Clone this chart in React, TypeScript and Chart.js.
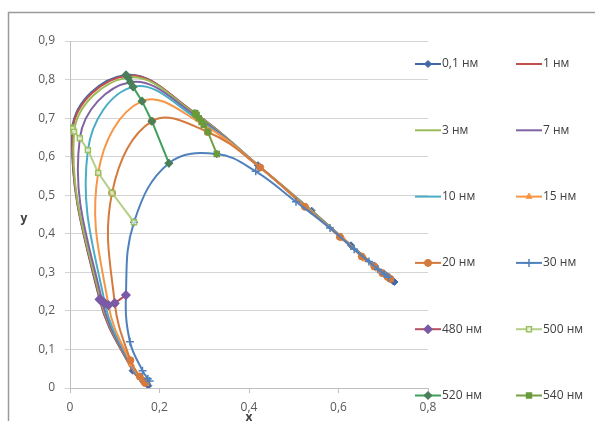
import React, { useEffect, useRef } from 'react';
import { Chart, registerables } from 'chart.js';
import { drawPoint } from 'chart.js/helpers';

Chart.register(...registerables);

// ---- data -------------------------------------------------------------
const wavelengths = [400, 420, 440, 460, 480, 500, 520, 540, 560, 580, 600, 620, 640, 660, 680, 700];

const thicknessLabels = ['0,1 нм', '1 нм', '3 нм', '7 нм', '10 нм', '15 нм', '20 нм', '30 нм'];

const x01 = [0.175, 0.172, 0.163, 0.140, 0.066, 0.005, 0.125, 0.279, 0.420, 0.540, 0.628, 0.680, 0.705, 0.717, 0.722, 0.725];
const y01 = [0.006, 0.010, 0.018, 0.045, 0.230, 0.675, 0.812, 0.713, 0.578, 0.460, 0.370, 0.318, 0.294, 0.282, 0.277, 0.275];

const x1 = [0.175, 0.172, 0.163, 0.140, 0.067, 0.006, 0.127, 0.280, 0.420, 0.539, 0.627, 0.679, 0.704, 0.716, 0.721, 0.724];
const y1 = [0.006, 0.010, 0.018, 0.046, 0.229, 0.672, 0.810, 0.712, 0.578, 0.461, 0.371, 0.319, 0.295, 0.283, 0.278, 0.276];

const x3 = [0.174, 0.171, 0.162, 0.140, 0.069, 0.009, 0.130, 0.283, 0.421, 0.538, 0.625, 0.677, 0.702, 0.714, 0.720, 0.723];
const y3 = [0.007, 0.011, 0.019, 0.048, 0.228, 0.665, 0.805, 0.708, 0.577, 0.462, 0.372, 0.320, 0.296, 0.284, 0.279, 0.277];

const x7 = [0.173, 0.170, 0.161, 0.139, 0.072, 0.022, 0.135, 0.288, 0.422, 0.535, 0.620, 0.672, 0.698, 0.711, 0.717, 0.720];
const y7 = [0.008, 0.012, 0.021, 0.051, 0.225, 0.648, 0.793, 0.700, 0.575, 0.463, 0.377, 0.324, 0.299, 0.287, 0.281, 0.279];

const x10 = [0.172, 0.169, 0.160, 0.139, 0.078, 0.040, 0.141, 0.294, 0.423, 0.532, 0.615, 0.667, 0.694, 0.707, 0.714, 0.718];
const y10 = [0.009, 0.013, 0.023, 0.055, 0.220, 0.617, 0.781, 0.690, 0.574, 0.465, 0.382, 0.328, 0.303, 0.290, 0.284, 0.281];

const x15 = [0.170, 0.167, 0.158, 0.137, 0.086, 0.063, 0.161, 0.299, 0.424, 0.528, 0.610, 0.660, 0.688, 0.702, 0.710, 0.715];
const y15 = [0.011, 0.015, 0.026, 0.062, 0.215, 0.558, 0.744, 0.682, 0.573, 0.468, 0.387, 0.334, 0.308, 0.294, 0.287, 0.283];

const x20 = [0.168, 0.165, 0.156, 0.135, 0.100, 0.094, 0.183, 0.308, 0.425, 0.525, 0.603, 0.652, 0.680, 0.698, 0.710, 0.716];
const y20 = [0.013, 0.018, 0.030, 0.072, 0.220, 0.506, 0.692, 0.664, 0.572, 0.470, 0.392, 0.341, 0.315, 0.298, 0.288, 0.283];

const x30 = [0.178, 0.174, 0.162, 0.134, 0.125, 0.143, 0.221, 0.328, 0.415, 0.505, 0.581, 0.635, 0.668, 0.688, 0.702, 0.712];
const y30 = [0.018, 0.024, 0.045, 0.120, 0.241, 0.430, 0.583, 0.607, 0.562, 0.483, 0.415, 0.360, 0.328, 0.308, 0.296, 0.287];

const thicknessX = [x01, x1, x3, x7, x10, x15, x20, x30];
const thicknessY = [y01, y1, y3, y7, y10, y15, y20, y30];

const markerWavelengths = [480, 500, 520, 540];
const markerLabels = ['480 нм', '500 нм', '520 нм', '540 нм'];

const xTicks = [0, 0.2, 0.4, 0.6, 0.8];
const yTicks = [0, 0.1, 0.2, 0.3, 0.4, 0.5, 0.6, 0.7, 0.8, 0.9];

// ---- styles -----------------------------------------------------------
const thicknessStyles = [
  { color: '#4068a8', point: 'rectRot', radius: 3.5 },
  { color: '#c0504d', point: 'circle', radius: 0 },
  { color: '#9bbb59', point: 'circle', radius: 0 },
  { color: '#8064a2', point: 'circle', radius: 0 },
  { color: '#4bacc6', point: 'circle', radius: 0 },
  { color: '#f79646', point: 'triangle', radius: 3.5 },
  { color: '#d57a3c', point: 'circle', radius: 3.5 },
  { color: '#4f81bd', point: 'cross', radius: 4 },
];
const markerStyles = [
  { color: '#b54f5d', pColor: '#7a5aa6', fill: '#7a5aa6', point: 'rectRot', radius: 4 },
  { color: '#b4d088', pColor: '#9bc15f', fill: 'rgba(255,255,255,0.6)', point: 'rect', radius: 3.5 },
  { color: '#3f9f5b', pColor: '#4a7f5a', fill: '#4a7f5a', point: 'rectRot', radius: 3.5 },
  { color: '#74a047', pColor: '#6a9a3a', fill: '#6a9a3a', point: 'rect', radius: 3.5 },
];

const fmt = (v: number | string) => {
  const n = Number(v);
  return n === 0 ? '0' : n.toFixed(1).replace('.', ',');
};

const frameAndLegend = {
  id: 'frameAndLegend',
  beforeDraw(chart: any) {
    const ctx = chart.ctx;
    ctx.save();
    ctx.fillStyle = '#ffffff';
    ctx.fillRect(0, 0, chart.width, chart.height);
    ctx.strokeStyle = '#9a9a9a';
    ctx.lineWidth = 1.5;
    ctx.beginPath();
    ctx.moveTo(8.5, chart.height + 2);
    ctx.lineTo(8.5, 12.5);
    ctx.lineTo(chart.width + 2, 12.5);
    ctx.stroke();
    ctx.restore();
  },
  afterDraw(chart: any) {
    const ctx = chart.ctx;
    const area = chart.chartArea;
    ctx.save();
    // axis titles
    ctx.fillStyle = '#404040';
    ctx.font = 'bold 12px "Open Sans", "Liberation Sans", sans-serif';
    ctx.textAlign = 'center';
    ctx.textBaseline = 'middle';
    ctx.fillText('y', 24, (area.top + area.bottom) / 2 + 4);
    ctx.fillText('x', (area.left + area.right) / 2, chart.height - 3);
    // legend in a 2-column grid
    const colX = [area.right - 13, area.right + 88];
    const rowY0 = 64;
    const rowStep = 66.3;
    chart.data.datasets.forEach((ds: any, i: number) => {
      const row = Math.floor(i / 2);
      const col = i % 2;
      const x0 = colX[col];
      const y = rowY0 + row * rowStep;
      ctx.strokeStyle = ds.borderColor;
      ctx.lineWidth = 2;
      ctx.beginPath();
      ctx.moveTo(x0, y);
      ctx.lineTo(x0 + 26, y);
      ctx.stroke();
      if (ds.pointRadius > 0) {
        ctx.fillStyle = ds.pointBackgroundColor;
        ctx.strokeStyle = ds.pointBorderColor;
        ctx.lineWidth = ds.pointBorderWidth;
        drawPoint(ctx, { pointStyle: ds.pointStyle, radius: ds.pointRadius, rotation: 0, borderWidth: ds.pointBorderWidth }, x0 + 13, y);
      }
      ctx.fillStyle = '#404040';
      ctx.font = '12px "Open Sans", "Liberation Sans", sans-serif';
      ctx.textAlign = 'left';
      ctx.textBaseline = 'middle';
      ctx.fillText(ds.label, x0 + 27, y);
    });
    ctx.restore();
  },
};

export default function App() {
  const canvasRef = useRef<HTMLCanvasElement | null>(null);

  useEffect(() => {
    document.body.style.margin = '0';
    const canvas = canvasRef.current;
    if (!canvas) return;
    Chart.defaults.font.family = '"Open Sans", "Liberation Sans", sans-serif';

    const thicknessSets = thicknessLabels.map((label, k) => {
      const st = thicknessStyles[k];
      return {
        label,
        data: thicknessX[k].map((x, j) => ({ x, y: thicknessY[k][j] })),
        showLine: true,
        tension: 0.4,
        borderColor: st.color,
        borderWidth: 2,
        pointStyle: st.point,
        pointRadius: st.radius,
        pointBackgroundColor: st.color,
        pointBorderColor: st.color,
        pointBorderWidth: st.point === 'cross' ? 1.5 : 1,
        order: 0,
      };
    });

    const markerSets = markerLabels.map((label, m) => {
      const st = markerStyles[m];
      const idx = wavelengths.indexOf(markerWavelengths[m]);
      return {
        label,
        data: thicknessX.map((xs, k) => ({ x: xs[idx], y: thicknessY[k][idx] })),
        showLine: true,
        tension: 0,
        borderColor: st.color,
        borderWidth: 2,
        pointStyle: st.point,
        pointRadius: st.radius,
        pointBackgroundColor: st.fill,
        pointBorderColor: st.pColor,
        pointBorderWidth: 1.5,
        order: 0,
      };
    });

    const datasets: any[] = [...thicknessSets, ...markerSets];
    datasets.forEach((d, i) => { d.order = datasets.length - i; });

    const chart = new Chart(canvas, {
      type: 'scatter',
      data: { datasets },
      options: {
        animation: false,
        responsive: false,
        layout: { padding: { left: 0, top: 41, right: 167, bottom: 0 } },
        plugins: { legend: { display: false }, tooltip: { enabled: false } },
        scales: {
          x: {
            type: 'linear',
            min: 0,
            max: 0.8,
            afterBuildTicks: (s: any) => { s.ticks = xTicks.map((v) => ({ value: v })); },
            afterFit: (s: any) => { s.height = 33; },
            ticks: { callback: (v: any) => fmt(v), color: '#595959', font: { size: 12 }, padding: 7, maxRotation: 0, autoSkip: false },
            grid: { drawOnChartArea: false, drawTicks: true, tickLength: 5, color: '#bfbfbf' },
            border: { display: true, color: '#bfbfbf' },
          },
          y: {
            type: 'linear',
            min: 0,
            max: 0.9,
            afterBuildTicks: (s: any) => { s.ticks = yTicks.map((v) => ({ value: v })); },
            afterFit: (s: any) => { s.width = 70; },
            ticks: { callback: (v: any) => fmt(v), color: '#595959', font: { size: 12 }, padding: 10, autoSkip: false },
            grid: { color: '#d4d4d4', tickLength: 5 },
            border: { display: true, color: '#bfbfbf' },
          },
        },
      },
      plugins: [frameAndLegend],
    } as any);

    return () => chart.destroy();
  }, []);

  return <canvas ref={canvasRef} width={595} height={421} style={{ display: 'block' }} />;
}
